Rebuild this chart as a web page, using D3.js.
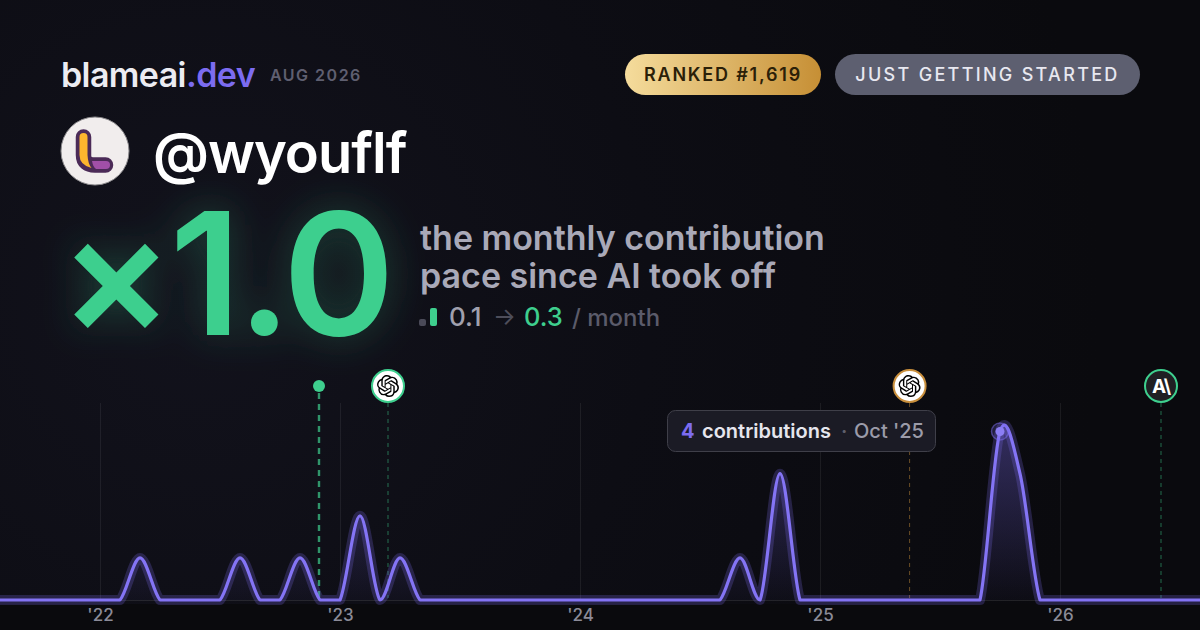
<!DOCTYPE html>
<html>
<head>
<meta charset="utf-8">
<script src="https://cdn.jsdelivr.net/npm/d3@7"></script>
<style>
html, body { margin: 0; padding: 0; background: #0b0b10; overflow: hidden; }
svg { display: block; }
text { font-family: Inter, sans-serif; }
</style>
</head>
<body>
<script>
// months run Aug '21 .. Aug '26, one value per month
var contributions = [
  0,0,0,0,0,           // Aug-Dec '21
  0,0,1,0,0,0,0,1,0,0,1,0,  // '22
  0,2,0,1,0,0,0,0,0,0,0,0,  // '23
  0,0,0,0,0,0,0,0,1,0,3,0,  // '24
  0,0,0,0,0,0,0,0,0,4,3,0,  // '25
  0,0,0,0,0,0,0,0           // '26
]
var yearTicks = [5, 17, 29, 41, 53]
var yearLabels = ["'22", "'23", "'24", "'25", "'26"]
var paceBars = [0.1, 0.3]
var eventMonths = [15.95, 19.4, 45.48, 58.05]
var eventKinds = ["dot", "openai", "openai", "anthropic"]
var eventColors = ["#3ecf8e", "#3ecf8e", "#c98f3c", "#3ecf8e"]

var width = 1200, height = 630
var baseY = 600

var x = d3.scaleLinear().domain([0, 60]).range([0, 1200])
var y = d3.scaleLinear().domain([0, 4]).range([baseY, 431.5])
var paceScale = d3.scaleLinear().domain([0, 0.3]).range([0, 18])

var svg = d3.select("body").append("svg")
    .attr("width", width)
    .attr("height", height)
    .attr("viewBox", "0 0 1200 630")

var defs = svg.append("defs")

var bg = defs.append("radialGradient").attr("id", "bg")
    .attr("gradientUnits", "userSpaceOnUse")
    .attr("cx", 200).attr("cy", 300).attr("r", 900)
bg.append("stop").attr("offset", 0).attr("stop-color", "#12121c")
bg.append("stop").attr("offset", 0.5).attr("stop-color", "#0d0d14")
bg.append("stop").attr("offset", 1).attr("stop-color", "#0a0a0e")

var gold = defs.append("linearGradient").attr("id", "gold")
gold.append("stop").attr("offset", 0).attr("stop-color", "#f5dc9c")
gold.append("stop").attr("offset", 1).attr("stop-color", "#c68f35")

var areaFill = defs.append("linearGradient").attr("id", "areaFill")
    .attr("gradientUnits", "userSpaceOnUse")
    .attr("x1", 0).attr("x2", 0).attr("y1", 425).attr("y2", baseY)
areaFill.append("stop").attr("offset", 0).attr("stop-color", "#7c6cf0").attr("stop-opacity", 0.36)
areaFill.append("stop").attr("offset", 1).attr("stop-color", "#7c6cf0").attr("stop-opacity", 0.03)

// blurred copy of the text under the text itself
var glow = defs.append("filter").attr("id", "glow")
    .attr("x", "-30%").attr("y", "-40%").attr("width", "160%").attr("height", "180%")
glow.append("feGaussianBlur").attr("in", "SourceGraphic").attr("stdDeviation", 20).attr("result", "blur")
glow.append("feComponentTransfer").attr("in", "blur").attr("result", "soft")
  .append("feFuncA").attr("type", "linear").attr("slope", 0.3)
var glowMerge = glow.append("feMerge")
glowMerge.append("feMergeNode").attr("in", "soft")
glowMerge.append("feMergeNode").attr("in", "SourceGraphic")

svg.append("rect").attr("width", width).attr("height", height).attr("fill", "url(#bg)")
svg.append("rect").attr("y", 604).attr("width", width).attr("height", 26).attr("fill", "#0a0a0d")

// header
var brand = svg.append("text").attr("x", 61).attr("y", 87)
    .attr("font-size", 34).attr("font-weight", 600).attr("letter-spacing", -0.6)
brand.append("tspan").attr("fill", "#ececf2").text("blameai")
brand.append("tspan").attr("fill", "#7c6cf0").text(".dev")

svg.append("text").attr("x", 270).attr("y", 81)
    .attr("font-size", 16).attr("font-weight", 600).attr("letter-spacing", 1.5)
    .attr("fill", "#5f5f70").text("AUG 2026")

svg.append("rect").attr("x", 625).attr("y", 54).attr("width", 196).attr("height", 41)
    .attr("rx", 20.5).attr("fill", "url(#gold)")
svg.append("text").attr("x", 723).attr("y", 81).attr("text-anchor", "middle")
    .attr("font-size", 18).attr("font-weight", 600).attr("letter-spacing", 1.8)
    .attr("fill", "#2b2008").text("RANKED #1,619")

svg.append("rect").attr("x", 835).attr("y", 54).attr("width", 305).attr("height", 41)
    .attr("rx", 20.5).attr("fill", "#5d5f70")
svg.append("text").attr("x", 987.5).attr("y", 81).attr("text-anchor", "middle")
    .attr("font-size", 18).attr("font-weight", 500).attr("letter-spacing", 2.3)
    .attr("fill", "#e8e8f0").text("JUST GETTING STARTED")

// avatar
svg.append("circle").attr("cx", 95).attr("cy", 151).attr("r", 34)
    .attr("fill", "#f1eded").attr("stroke", "#8d8b8e").attr("stroke-width", 1)
svg.append("path").attr("d", "M83.5 137V155Q83.5 165 95 165H105.5")
    .attr("fill", "none").attr("stroke", "#4b2a57").attr("stroke-width", 15.5).attr("stroke-linecap", "round")
svg.append("path").attr("d", "M79.5 137a4 4 0 0 1 8 0V155Q88 164 91.5 168Q79.5 165 79.5 155Z")
    .attr("fill", "#fdb52e")
svg.append("path").attr("d", "M92 161H106a4 4 0 0 1 0 8H96Q93 167 92 161Z")
    .attr("fill", "#a14fa8")

svg.append("text").attr("x", 153).attr("y", 173)
    .attr("font-size", 56).attr("font-weight", 600).attr("letter-spacing", -1)
    .attr("fill", "#ffffff").text("@wyouflf")

// big number
svg.append("text").attr("x", 59).attr("y", 335)
    .attr("font-size", 170).attr("font-weight", 600).attr("letter-spacing", -4)
    .attr("fill", "#3ecf8e").attr("filter", "url(#glow)").text("×1.0")

svg.append("text").attr("x", 420).attr("y", 250)
    .attr("font-size", 34).attr("font-weight", 600)
    .attr("fill", "#a9a9b8").text("the monthly contribution")
svg.append("text").attr("x", 420).attr("y", 288)
    .attr("font-size", 34).attr("font-weight", 600)
    .attr("fill", "#a9a9b8").text("pace since AI took off")

// small bars keep a minimum height so the low one still shows
svg.selectAll(".pace")
    .data(paceBars)
  .enter().append("rect")
    .attr("class", "pace")
    .attr("x", function(d, i) { return 419 + i * 11 })
    .attr("y", function(d) { return 326 - Math.max(7, paceScale(d)) })
    .attr("width", 7)
    .attr("height", function(d) { return Math.max(7, paceScale(d)) })
    .attr("rx", 2)
    .attr("fill", function(d, i) { return i ? "#3ecf8e" : "#4a4a58" })

var pace = svg.append("g").attr("font-weight", 500)
pace.append("text").attr("x", 449).attr("y", 326).attr("font-size", 26).attr("fill", "#a0a0ae").text("0.1")
pace.append("text").attr("x", 493).attr("y", 325).attr("font-size", 24).attr("font-weight", 400).attr("fill", "#4d4d5a").text("→")
pace.append("text").attr("x", 524).attr("y", 326).attr("font-size", 25.5).attr("fill", "#3ecf8e").text("0.3")
pace.append("text").attr("x", 572).attr("y", 326).attr("font-size", 24).attr("fill", "#5b5b6a").text("/ month")

// chart grid and axis
var axis = d3.axisBottom(x)
    .tickValues(yearTicks)
    .tickSize(0)
    .tickPadding(0)
    .tickFormat(function(d, i) { return yearLabels[i] })

svg.append("g").selectAll(".grid")
    .data(yearTicks)
  .enter().append("line")
    .attr("class", "grid")
    .attr("x1", function(d) { return x(d) + 0.5 })
    .attr("x2", function(d) { return x(d) + 0.5 })
    .attr("y1", 403)
    .attr("y2", baseY)
    .attr("stroke", "#ffffff")
    .attr("stroke-opacity", 0.07)

var axisG = svg.append("g").attr("transform", "translate(0," + baseY + ")").call(axis)
axisG.select(".domain").attr("stroke", "#ffffff").attr("stroke-opacity", 0.1)
axisG.selectAll("text")
    .attr("y", 21).attr("dy", 0)
    .attr("font-size", 17).attr("font-weight", 500)
    .attr("font-family", "Inter, sans-serif")
    .attr("fill", "#8b8b98")

// catmull-rom whose control points never go under the baseline
function clampedCurve(context) {
  var pts, lineNo
  return {
    areaStart: function() { lineNo = 0 },
    areaEnd: function() { lineNo = NaN },
    lineStart: function() { pts = [] },
    point: function(px, py) { pts.push([+px, +py]) },
    lineEnd: function() {
      var n = pts.length
      pts.forEach(function(p, i) {
        if (i == 0) {
          if (lineNo === 1) context.lineTo(p[0], p[1])
          else context.moveTo(p[0], p[1])
          return
        }
        var p0 = pts[Math.max(i - 2, 0)], p1 = pts[i - 1], p3 = pts[Math.min(i + 1, n - 1)]
        context.bezierCurveTo(
          p1[0] + (p[0] - p0[0]) / 6, Math.min(baseY, p1[1] + (p[1] - p0[1]) / 6),
          p[0] - (p3[0] - p1[0]) / 6, Math.min(baseY, p[1] - (p3[1] - p1[1]) / 6),
          p[0], p[1])
      })
      if (lineNo === 1) context.closePath()
      if (lineNo === 0) lineNo = 1
    }
  }
}

var line = d3.line()
    .x(function(d, i) { return x(i) })
    .y(function(d) { return y(d) })
    .curve(clampedCurve)

var area = d3.area()
    .x(function(d, i) { return x(i) })
    .y0(baseY)
    .y1(function(d) { return y(d) })
    .curve(clampedCurve)

// event stems
var events = d3.range(eventMonths.length).map(function(i) {
  return {m: eventMonths[i], kind: eventKinds[i], color: eventColors[i]}
})

svg.selectAll(".stem")
    .data(events)
  .enter().append("line")
    .attr("class", "stem")
    .attr("x1", function(d) { return x(d.m) })
    .attr("x2", function(d) { return x(d.m) })
    .attr("y1", function(d) { return d.kind == "dot" ? 393 : 403 })
    .attr("y2", baseY - 2)
    .attr("stroke", function(d) { return d.color })
    .attr("stroke-opacity", function(d) { return d.kind == "dot" ? 0.7 : 0.5 })
    .attr("stroke-width", function(d) { return d.kind == "dot" ? 2.4 : 1 })
    .attr("stroke-dasharray", function(d) { return d.kind == "dot" ? "6 5" : "4 4" })

svg.append("path").datum(contributions).attr("d", area).attr("fill", "url(#areaFill)")
svg.append("path").datum(contributions).attr("d", line)
    .attr("fill", "none").attr("stroke", "#7c6cf0").attr("stroke-opacity", 0.24)
    .attr("stroke-width", 10).attr("stroke-linejoin", "round")
svg.append("path").datum(contributions).attr("d", line)
    .attr("fill", "none").attr("stroke", "#8474f5").attr("stroke-width", 3.2)
    .attr("stroke-linejoin", "round")

// event markers
var openaiLogo = "M22.2819 9.8211a5.9847 5.9847 0 0 0-.5157-4.9108 6.0462 6.0462 0 0 0-6.5098-2.9A6.0651 6.0651 0 0 0 4.9807 4.1818a5.9847 5.9847 0 0 0-3.9977 2.9 6.0462 6.0462 0 0 0 .7427 7.0966 5.98 5.98 0 0 0 .511 4.9107 6.051 6.051 0 0 0 6.5146 2.9001A5.9847 5.9847 0 0 0 13.2599 24a6.0557 6.0557 0 0 0 5.7718-4.2058 5.9894 5.9894 0 0 0 3.9977-2.9001 6.0557 6.0557 0 0 0-.7475-7.0729zm-9.022 12.6081a4.4755 4.4755 0 0 1-2.8764-1.0408l.1419-.0804 4.7783-2.7582a.7948.7948 0 0 0 .3927-.6813v-6.7369l2.02 1.1686a.071.071 0 0 1 .038.052v5.5826a4.504 4.504 0 0 1-4.4945 4.4944zm-9.6607-4.1254a4.4708 4.4708 0 0 1-.5346-3.0137l.142.0852 4.783 2.7582a.7712.7712 0 0 0 .7806 0l5.8428-3.3685v2.3324a.0804.0804 0 0 1-.0332.0615L9.74 19.9502a4.4992 4.4992 0 0 1-6.1408-1.6464zM2.3408 7.8956a4.485 4.485 0 0 1 2.3655-1.9728V11.6a.7664.7664 0 0 0 .3879.6765l5.8144 3.3543-2.0201 1.1685a.0757.0757 0 0 1-.071 0l-4.8303-2.7865A4.504 4.504 0 0 1 2.3408 7.872zm16.5963 3.8558L13.1038 8.364 15.1192 7.2a.0757.0757 0 0 1 .071 0l4.8303 2.7913a4.4944 4.4944 0 0 1-.6765 8.1042v-5.6772a.79.79 0 0 0-.407-.667zm2.0107-3.0231l-.142-.0852-4.7735-2.7818a.7759.7759 0 0 0-.7854 0L9.409 9.2297V6.8974a.0662.0662 0 0 1 .0284-.0615l4.8303-2.7866a4.4992 4.4992 0 0 1 6.6802 4.66zM8.3065 12.863l-2.02-1.1638a.0804.0804 0 0 1-.038-.0567V6.0742a4.4992 4.4992 0 0 1 7.3757-3.4537l-.142.0805L8.704 5.459a.7948.7948 0 0 0-.3927.6813zm1.0976-2.3654l2.602-1.4998 2.6069 1.4998v2.9994l-2.5974 1.4997-2.6067-1.4997Z"

var marker = svg.selectAll(".marker")
    .data(events)
  .enter().append("g")
    .attr("class", "marker")
    .attr("transform", function(d) { return "translate(" + x(d.m) + ",386)" })

marker.filter(function(d) { return d.kind == "dot" }).append("circle")
    .attr("r", 6).attr("fill", function(d) { return d.color })

marker.filter(function(d) { return d.kind != "dot" }).append("circle")
    .attr("r", 16)
    .attr("fill", function(d) { return d.kind == "openai" ? "#ffffff" : "#1f1f23" })
    .attr("stroke", function(d) { return d.color })
    .attr("stroke-width", 2)

marker.filter(function(d) { return d.kind == "openai" }).append("path")
    .attr("d", openaiLogo)
    .attr("transform", "translate(-11,-11) scale(0.917)")
    .attr("fill", "#000000")

marker.filter(function(d) { return d.kind == "anthropic" }).append("text")
    .attr("text-anchor", "middle").attr("y", 7)
    .attr("font-size", 19).attr("font-weight", 700).attr("letter-spacing", -1)
    .attr("fill", "#ffffff").text("A\\")

// highlighted point
svg.append("circle").attr("cx", x(50)).attr("cy", y(4)).attr("r", 8.5)
    .attr("fill", "#7c6cf0").attr("fill-opacity", 0.2)
    .attr("stroke", "#7c6cf0").attr("stroke-opacity", 0.5).attr("stroke-width", 1.5)
svg.append("circle").attr("cx", x(50)).attr("cy", y(4)).attr("r", 4.5).attr("fill", "#8c7ef5")

// tooltip
svg.append("rect").attr("x", 667.5).attr("y", 410.5).attr("width", 268).attr("height", 41)
    .attr("rx", 8).attr("fill", "#1b1b25").attr("stroke", "#3f3f49")
var tip = svg.append("text").attr("y", 438).attr("font-size", 20).attr("font-weight", 600)
tip.append("tspan").attr("x", 681).attr("fill", "#7c6cf0").attr("font-weight", 700).text("4")
tip.append("tspan").attr("x", 702).attr("fill", "#e6e6ee").text("contributions")
tip.append("tspan").attr("x", 841).attr("fill", "#5f5f6c").text("·")
tip.append("tspan").attr("x", 854).attr("fill", "#9b9ba9").attr("font-weight", 500).text("Oct '25")
</script>
</body>
</html>
